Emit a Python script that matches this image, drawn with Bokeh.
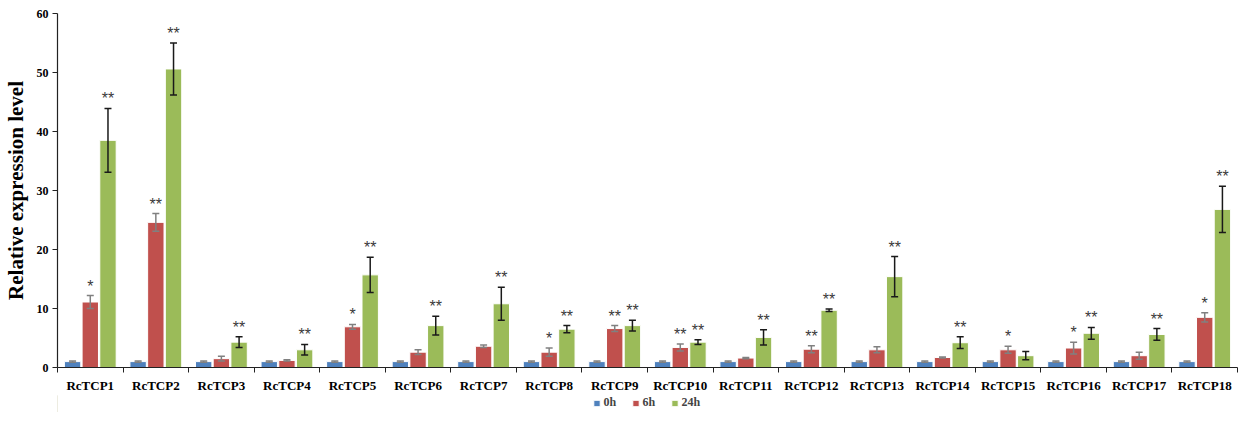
from bokeh.plotting import figure
from bokeh.models import ColumnDataSource, FixedTicker, Whisker, TeeHead, Legend, LegendItem, Range1d
from bokeh.layouts import column
from bokeh.embed import file_html
from bokeh.resources import INLINE
from bokeh.core.properties import value

genes = [f"RcTCP{i}" for i in range(1, 19)]
series = ["0h", "6h", "24h"]
h0 = [1.0] * 18
h0_err = [0.1] * 18
h6 = [11.1, 24.6, 1.5, 1.2, 6.9, 2.6, 3.6, 2.6, 6.6, 3.4, 1.6, 3.1, 3.0, 1.7, 3.0, 3.3, 2.0, 8.5]
h6_err = [1.1, 1.5, 0.4, 0.1, 0.4, 0.4, 0.2, 0.7, 0.5, 0.6, 0.1, 0.6, 0.5, 0.1, 0.6, 1.0, 0.6, 0.8]
h24 = [38.5, 50.6, 4.3, 3.0, 15.7, 7.1, 10.8, 6.5, 7.1, 4.3, 5.1, 9.7, 15.4, 4.2, 2.0, 5.8, 5.6, 26.8]
h24_err = [5.4, 4.4, 0.9, 0.9, 3.0, 1.6, 2.8, 0.6, 0.9, 0.4, 1.3, 0.2, 3.4, 1.0, 0.7, 1.0, 1.0, 3.9]
sig0 = [""] * 18
sig6 = ["*", "**", "", "", "*", "", "", "*", "**", "**", "", "**", "", "", "*", "*", "", "*"]
sig24 = ["**", "**", "**", "**", "**", "**", "**", "**", "**", "**", "**", "**", "**", "**", "", "**", "**", "**"]
colors = ["#4F81BD", "#C0504D", "#9BBB59"]
err_colors = ["#808080", "#808080", "#1a1a1a"]

vals = [h0, h6, h24]
errs = [h0_err, h6_err, h24_err]
sigs = [sig0, sig6, sig24]
offsets = [-0.27, 0.0, 0.27]

p = figure(width=1239, height=395, output_backend="svg", toolbar_location=None,
           x_range=Range1d(0.5, 18.5), y_range=Range1d(0, 60),
           min_border_left=50, min_border_right=2, min_border_top=13, min_border_bottom=22)
p.outline_line_color = None
p.xgrid.visible = False
p.ygrid.visible = False
p.background_fill_color = "white"

renderers = []
for k in range(3):
    xs = [i + 1 + offsets[k] for i in range(18)]
    src = ColumnDataSource(dict(
        x=xs, top=vals[k],
        upper=[v + e for v, e in zip(vals[k], errs[k])],
        lower=[v - e for v, e in zip(vals[k], errs[k])],
        sig=sigs[k]))
    r = p.vbar(x="x", top="top", width=0.25, bottom=0, source=src,
               fill_color=colors[k], line_color="white", line_width=1)
    renderers.append(r)
    w = Whisker(source=src, base="x", upper="upper", lower="lower",
                line_color=err_colors[k], line_width=1.5, level="overlay",
                upper_head=TeeHead(size=7, line_color=err_colors[k], line_width=1.5),
                lower_head=TeeHead(size=7, line_color=err_colors[k], line_width=1.5))
    p.add_layout(w)
    p.text(x="x", y="upper", text="sig", source=src, text_align="center",
           text_baseline="bottom", y_offset=-1, text_font=value("Liberation Sans"),
           text_font_size="16px", text_color="#3a3a3a")

# axes
xa = p.xaxis[0]
xa.ticker = FixedTicker(ticks=list(range(1, 19)), minor_ticks=[i + 0.5 for i in range(19)])
xa.major_label_overrides = {i + 1: g for i, g in enumerate(genes)}
xa.major_tick_line_color = None
xa.minor_tick_out = 5
xa.minor_tick_in = 0
xa.minor_tick_line_color = "#222222"
xa.axis_line_color = "#222222"
xa.axis_line_width = 1.2
xa.major_label_text_font = "Liberation Serif"
xa.major_label_text_font_style = "bold"
xa.major_label_text_font_size = "13px"
xa.major_label_text_color = "black"
xa.major_label_standoff = 4

ya = p.yaxis[0]
ya.ticker = FixedTicker(ticks=[0, 10, 20, 30, 40, 50, 60])
ya.minor_tick_line_color = None
ya.major_tick_out = 5
ya.major_tick_in = 0
ya.axis_line_color = "#222222"
ya.major_tick_line_color = "#222222"
ya.axis_line_width = 1.2
ya.major_label_text_font = "Liberation Serif"
ya.major_label_text_font_style = "bold"
ya.major_label_text_font_size = "12px"
ya.major_label_text_color = "black"
ya.major_label_standoff = 4
ya.axis_label = "Relative expression level"
ya.axis_label_text_font = "Liberation Serif"
ya.axis_label_text_font_style = "bold"
ya.axis_label_text_font_size = "21px"
ya.axis_label_text_color = "black"
ya.axis_label_standoff = 6

# legend strip
lf = figure(width=1239, height=17, output_backend="svg", toolbar_location=None,
            x_range=Range1d(0, 1), y_range=Range1d(0, 1),
            min_border_left=0, min_border_right=0, min_border_top=0, min_border_bottom=0)
lf.axis.visible = False
lf.grid.visible = False
lf.outline_line_color = None
lrs = []
for k in range(3):
    lrs.append(lf.vbar(x=[-5], top=[1], width=0.1, fill_color=colors[k],
                       line_color="white", line_width=1))
legend = Legend(items=[LegendItem(label=s, renderers=[r]) for s, r in zip(series, lrs)],
                orientation="horizontal", location="bottom_center",
                label_text_font="Liberation Serif", label_text_font_style="bold",
                label_text_font_size="12px", glyph_width=8, glyph_height=8,
                label_standoff=3, spacing=8, padding=0, margin=2,
                border_line_color=None, background_fill_alpha=0,
                label_height=12)
lf.add_layout(legend)

open("out.html", "w").write(file_html(column(p, lf), INLINE))
